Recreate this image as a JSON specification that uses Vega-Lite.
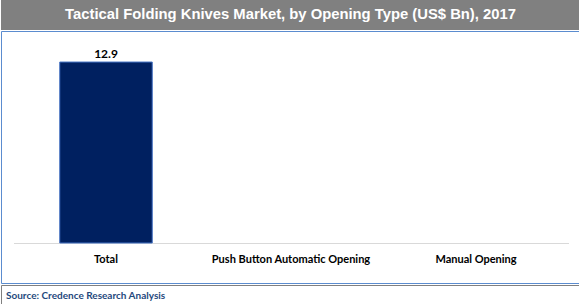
{
  "$schema": "https://vega.github.io/schema/vega-lite/v6.json",
  "padding": 0,
  "spacing": 0,
  "background": "white",
  "config": {"view": {"stroke": null}, "concat": {"spacing": 0}},
  "datasets": {
    "market": [
      {"type": "Total", "value": 12.9},
      {"type": "Push Button Automatic Opening", "value": null},
      {"type": "Manual Opening", "value": null}
    ],
    "header": [{"text": "Tactical Folding Knives Market, by Opening Type (US$ Bn), 2017"}],
    "footer": [{"text": "Source: Credence Research Analysis"}]
  },
  "vconcat": [
    {
      "width": 579,
      "height": 30,
      "view": {"fill": "#808080", "stroke": null},
      "data": {"name": "header"},
      "mark": {"type": "text", "font": "Liberation Sans", "fontWeight": "bold", "fontSize": 14.8, "color": "white", "align": "center", "baseline": "middle"},
      "encoding": {"text": {"field": "text"}}
    },
    {
      "width": 579,
      "height": 252,
      "view": {"fill": "white", "stroke": "#5b8ccf", "strokeWidth": 1},
      "data": {"name": "market"},
      "encoding": {
        "x": {
          "field": "type", "type": "nominal", "sort": null,
          "scale": {"domain": ["Total", "Push Button Automatic Opening", "Manual Opening"], "range": [12.5, 567.5], "paddingInner": 0.5, "paddingOuter": 0.25},
          "axis": {"title": null, "orient": "bottom", "offset": -40, "labelAngle": 0, "ticks": false,
                   "domainColor": "#d9d9d9", "domainWidth": 1, "labelFont": "Lato", "labelFontWeight": "bold",
                   "labelFontSize": 11, "labelColor": "#000000", "labelPadding": 10}
        },
        "y": {
          "field": "value", "type": "quantitative",
          "scale": {"domain": [0, 14], "range": [212, 15.6], "nice": false, "zero": true},
          "axis": null
        }
      },
      "layer": [
        {"mark": {"type": "bar", "color": "#002060", "stroke": "#4472c4", "strokeWidth": 1}},
        {"mark": {"type": "text", "baseline": "bottom", "dy": -1, "font": "Lato", "fontSize": 12, "fontWeight": "bold", "color": "#000000"},
         "encoding": {"text": {"field": "value", "type": "quantitative", "format": ".1f"}}}
      ]
    },
    {
      "width": 579,
      "height": 22,
      "view": {"fill": "white", "stroke": "#808080", "strokeWidth": 1},
      "data": {"name": "footer"},
      "mark": {"type": "text", "font": "Lato", "fontWeight": "bold", "fontSize": 10, "color": "#1f497d", "align": "left", "baseline": "middle", "x": 5},
      "encoding": {"text": {"field": "text"}}
    }
  ]
}
